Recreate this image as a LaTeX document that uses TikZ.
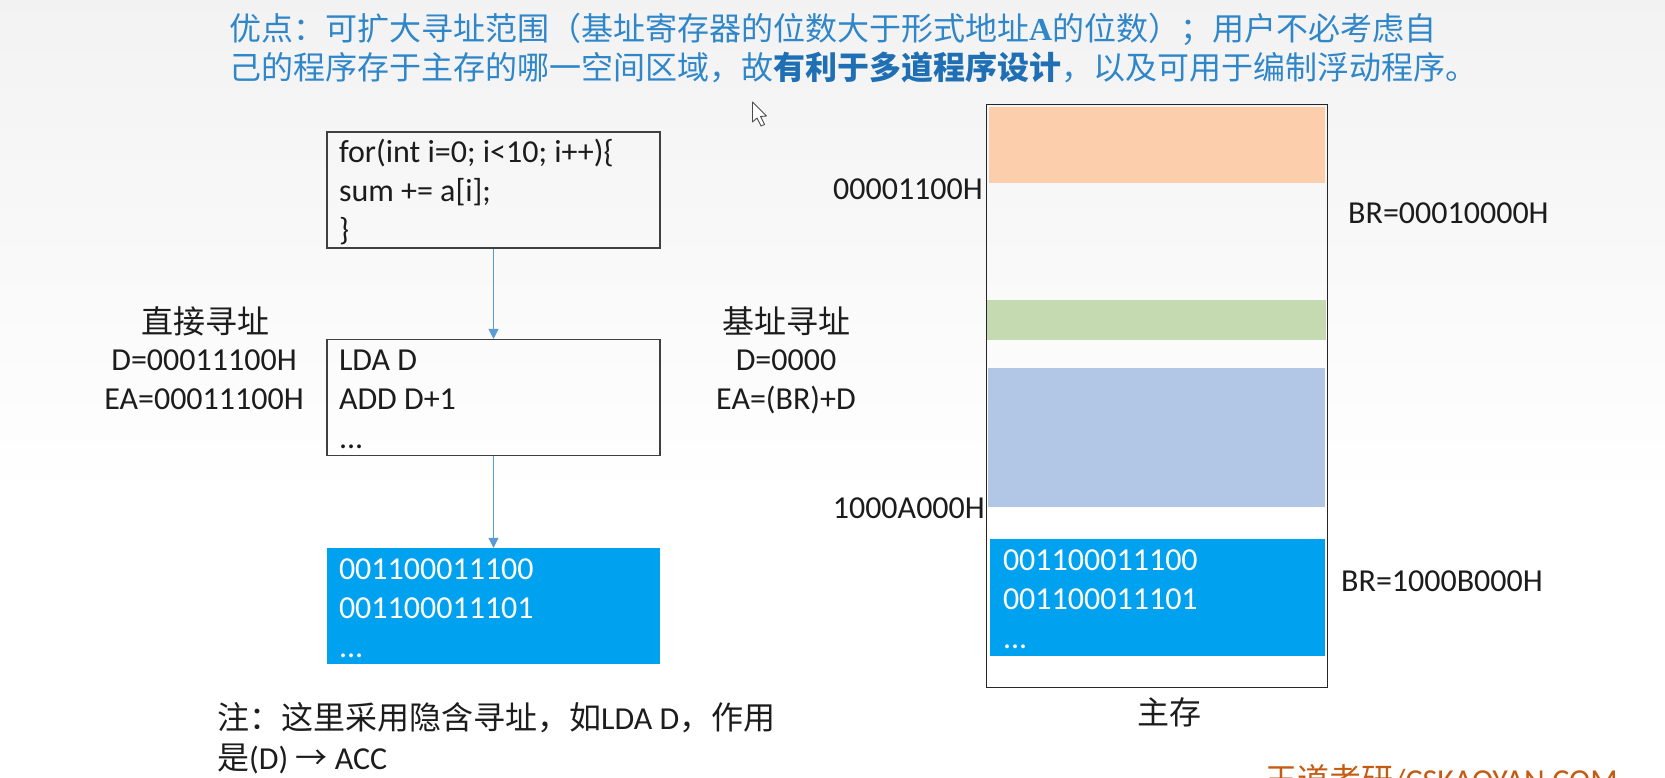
\documentclass[tikz,border=0pt]{standalone}
\usepackage{fontspec}
\setmainfont{Carlito}
\newfontfamily\cjk{Noto Sans CJK SC}
\newfontfamily\serifb{Liberation Serif}
\usetikzlibrary{arrows.meta}
\definecolor{titleblue}{HTML}{2F86C9}
\definecolor{titlebold}{HTML}{1F6FB5}
\definecolor{inkc}{HTML}{1C1C1C}
\definecolor{cellblue}{HTML}{00A2F0}
\definecolor{cellorange}{HTML}{FCCEAC}
\definecolor{cellgreen}{HTML}{C5DAB0}
\definecolor{cellpale}{HTML}{B2C6E6}
\definecolor{linkblue}{HTML}{5B9BD5}
\definecolor{markc}{HTML}{C55A11}
\tikzset{
  x=1pt,y=-1pt,
  txt/.style={inner sep=0pt,text=inkc,font=\fontsize{32}{39}\selectfont},
  title/.style={inner sep=0pt,anchor=base west,text=titleblue,font=\fontsize{32}{39}\selectfont},
  codebox/.style={draw=black!75,line width=1.1pt,minimum width=333pt,minimum height=116pt,inner sep=0pt},
  databox/.style={fill=cellblue,minimum width=333pt,minimum height=116pt,inner sep=0pt},
  linestext/.style={inner sep=0pt,text width=309pt,align=left,font=\fontsize{32}{39}\selectfont,execute at begin node={\spaceskip=.226em\relax}},
  band/.style={inner sep=0pt,anchor=north west},
  link/.style={draw=linkblue,line width=1.1pt,-{Triangle[length=10pt,width=10pt]}},
}
\begin{document}
\begin{tikzpicture}
\useasboundingbox (0,0) rectangle (1665,778);
\shade[top color=black!5,bottom color=white,draw=none] (0,0) rectangle (1665,500);
\fill[white] (0,500) rectangle (1665,778);

\node[title] (t1) at (229,41) {\cjk 优点：可扩大寻址范围（基址寄存器的位数大于形式地址{\serifb\bfseries A}的位数）；用户不必考虑自};
\node[title] (t2) at (229,80) {\cjk 己的程序存于主存的哪一空间区域，故{\bfseries\color{titlebold}有利于多道程序设计}，以及可用于编制浮动程序。};

\node[codebox] (src) at (493.5,190) {};
\node[linestext,text=inkc] (srct) at (493.5,192) {for(int i=0; i<10; i++)\{\\sum += a[i];\\\}};
\node[codebox] (asm) at (493.5,397.5) {};
\node[linestext,text=inkc] (asmt) at (493.5,399.5) {LDA D\\ADD D+1\\...};
\node[databox] (bin) at (493.5,606) {};
\node[linestext,text=white] (bint) at (493.5,608) {001100011100\\001100011101\\...};
\draw[link] (src.south) -- (asm.north);
\draw[link] (asm.south) -- (bin.north);

\node[txt,anchor=base] (dl1) at (205,333) {\cjk 直接寻址};
\node[txt,anchor=base] (dl2) at (204,370) {D=00011100H};
\node[txt,anchor=base] (dl3) at (204,409) {EA=00011100H};
\node[txt,anchor=base] (bl1) at (786,333) {\cjk 基址寻址};
\node[txt,anchor=base] (bl2) at (786,370) {D=0000};
\node[txt,anchor=base] (bl3) at (786,409) {EA=(BR)+D};

\node[band,fill=cellorange,minimum width=336pt,minimum height=76pt] (orange) at (989,107) {};
\node[band,fill=cellgreen,minimum width=340pt,minimum height=40pt] (green) at (986,300) {};
\node[band,fill=cellpale,minimum width=337pt,minimum height=139pt] (pale) at (988,368) {};
\node[databox,band,minimum width=335pt,minimum height=117pt] (mem) at (990,539) {};
\node[linestext,text=white] (memt) at (1157.5,599.5) {001100011100\\001100011101\\...};
\node[draw=black!85,line width=1.3pt,band,minimum width=340.5pt,minimum height=583pt] (store) at (986,104) {};

\node[txt,anchor=base east] (a1) at (983,200) {00001100H};
\node[txt,anchor=base east] (a2) at (985,518) {1000A000H};
\node[txt,anchor=base west] (b1) at (1348,223) {BR=00010000H};
\node[txt,anchor=base west] (b2) at (1341,591) {BR=1000B000H};
\node[txt,anchor=base] (cap) at (1169,724) {\cjk 主存};

\node[txt,anchor=base west] (n1) at (217,729) {\cjk 注：这里采用隐含寻址，如{\rmfamily LDA D}，作用};
\node[txt,anchor=base west] (n2) at (217,769) {{\cjk 是}(D) {\cjk →} ACC};

\node[inner sep=0pt,anchor=base west,text=markc,font=\fontsize{32}{32}\selectfont] (wm) at (1265,791) {{\cjk 王道考研}/CSKAOYAN.COM};

\draw[fill=white,draw=black!70,line width=0.9pt,line join=round] (752.5,102) -- (752.5,122) -- (757,118) -- (761,126) -- (764.5,124.5) -- (760.5,116.5) -- (766.5,116) -- cycle;
\end{tikzpicture}
\end{document}
